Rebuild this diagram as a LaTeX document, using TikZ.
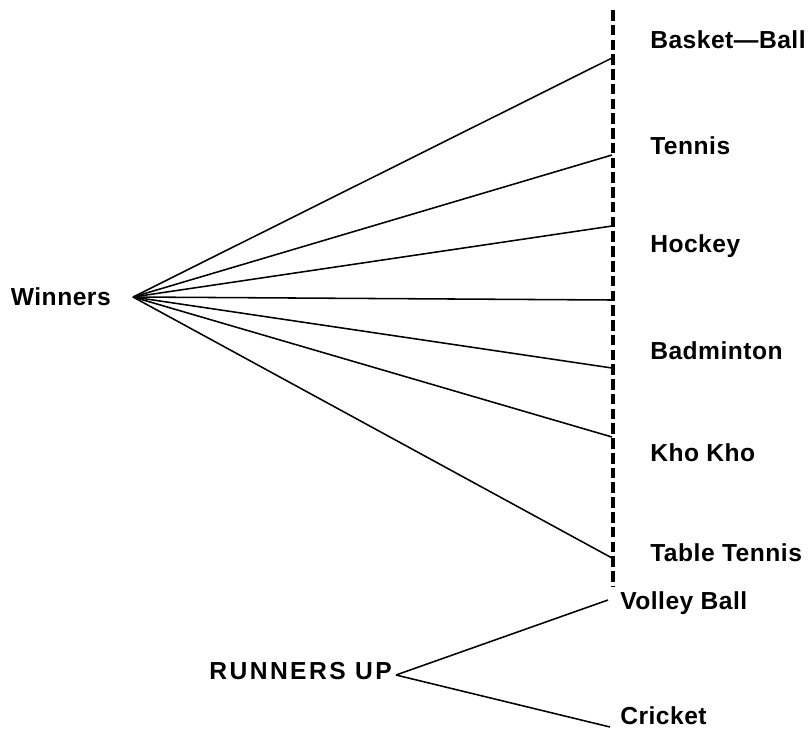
\documentclass[tikz,border=0pt]{standalone}
\usepackage{fontspec}
\setmainfont{Liberation Sans}[BoldFont={Liberation Sans Bold}]
\usepackage{tikz}
\usetikzlibrary{positioning}

\tikzset{
  lbl/.style={font=\fontsize{17.5}{21}\selectfont\bfseries\addfontfeature{LetterSpace=2}, inner sep=0pt},
  ray/.style={line width=1.1pt},
  axisline/.style={line width=2.4pt, dash pattern=on 7.5pt off 3pt}
}

\begin{document}
\begin{tikzpicture}[x=0.025cm, y=-0.025cm]
\useasboundingbox (0,0) rectangle (812,732);
% the dashed line
\coordinate (top) at (613,10);
\coordinate (bot) at (613,586);
\draw[axisline] (top) -- (bot);
% winners
\node[lbl, anchor=east] (win) at (111,297) {Winners};
\coordinate (wapex) at (133,297);
\foreach \i/\y in {1/58, 2/155, 3/226, 4/300, 5/368, 6/437, 7/558}
  \coordinate (e\i) at (612,\y);
\foreach \i in {1,...,7}
  \draw[ray] (wapex) -- (e\i);
% sports
\node[lbl, anchor=west] (bb) at (650,40) {Basket---Ball};
\node[lbl, anchor=west] (tn) at (650,146) {Tennis};
\node[lbl, anchor=west] (hk) at (650,246) {Hockey};
\node[lbl, anchor=west] (bd) at (650,351) {Badminton};
\node[lbl, anchor=west] (kk) at (650,453) {Kho Kho};
\node[lbl, anchor=west] (tt) at (650,553) {Table Tennis};
% runners up
\node[lbl, anchor=east, font=\fontsize{17.5}{21}\selectfont\bfseries\addfontfeature{LetterSpace=10}] (ru) at (392,671) {RUNNERS UP};
\coordinate (rapex) at (396,675);
\node[lbl, anchor=west] (vb) at (620,603) {Volley Ball};
\node[lbl, anchor=west] (cr) at (620,716) {Cricket};
\coordinate (r1) at (608,600);
\coordinate (r2) at (610,727);
\draw[ray] (rapex) -- (r1);
\draw[ray] (rapex) -- (r2);
\end{tikzpicture}
\end{document}
